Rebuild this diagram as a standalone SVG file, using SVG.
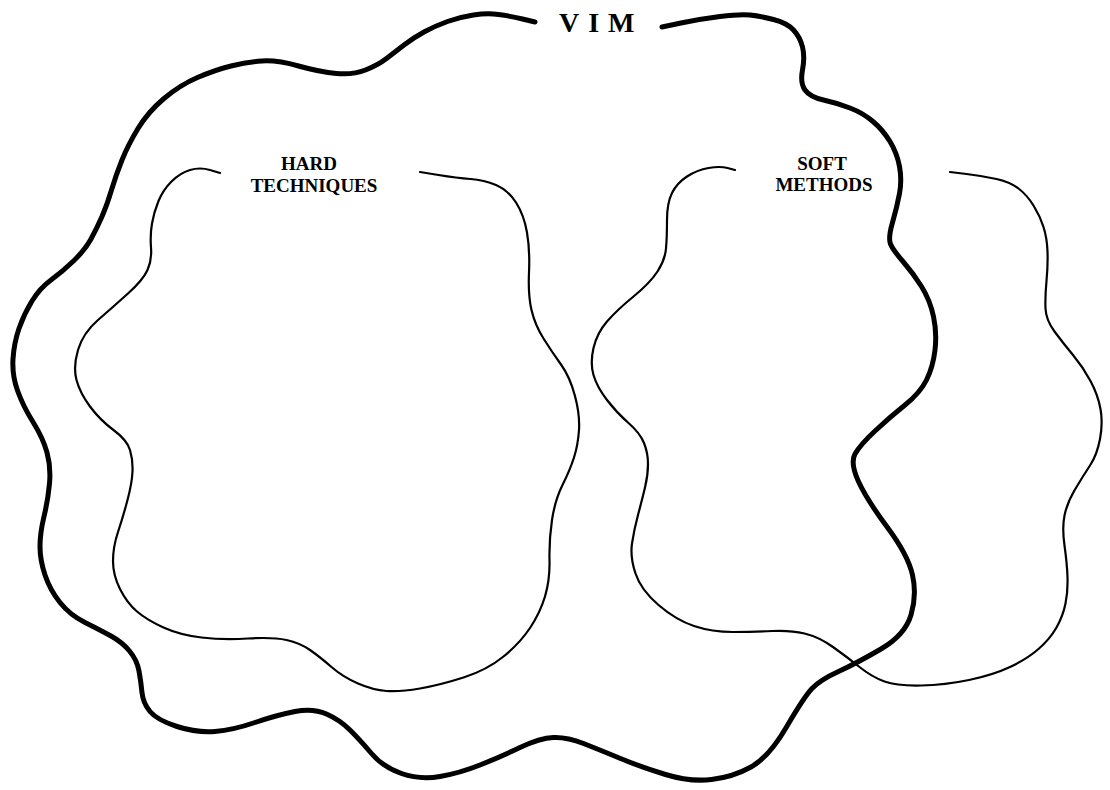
<svg xmlns="http://www.w3.org/2000/svg" width="1110" height="790" viewBox="0 0 1110 790">
<style>
.thick{fill:none;stroke:#000;stroke-width:5;stroke-linecap:round;stroke-linejoin:round}
.thin{fill:none;stroke:#000;stroke-width:2.2;stroke-linecap:round;stroke-linejoin:round}
.lbl{font-family:"Liberation Serif","Times New Roman",serif;font-weight:bold;font-size:19px;fill:#000;text-anchor:middle}
.title{font-family:"Liberation Serif","Times New Roman",serif;font-weight:bold;font-size:28px;fill:#000;letter-spacing:9px}
</style>
<rect width="1110" height="790" fill="#fff"/>
<g id="vim">
<path class="thick" d="M535,22 L522.5,19 Q510,16 498.5,14.5 Q487,13 473.5,15 Q460,17 447.5,21.5 Q435,26 424,32 Q413,38 404,45 Q395,52 386.5,58.5 Q378,65 365.5,70 Q353,75 336.5,73.5 Q320,72 298.5,66 Q277,60 262,61 Q247,62 231,66 Q215,70 197.5,77.5 Q180,85 164,98.5 Q148,112 138,128.5 Q128,145 122,160 Q116,175 111.5,190 Q107,205 102,216.5 Q97,228 91,239 Q85,250 73.5,261 Q62,272 51,280 Q40,288 32,301 Q24,314 19,328.5 Q14,343 13,359 Q12,375 17.5,390.5 Q23,406 33,422 Q43,438 47,452.5 Q51,467 49.5,483.5 Q48,500 44,516.5 Q40,533 40,546.5 Q40,560 45,575 Q50,590 60,602.5 Q70,615 85,622.5 Q100,630 111,636 Q122,642 129.5,651 Q137,660 139,671 Q141,682 142,692.5 Q143,703 150,711.5 Q157,720 177,726.5 Q197,733 215,731.5 Q233,730 255,722.5 Q277,715 295,711.5 Q313,708 326.5,714 Q340,720 350,730 Q360,740 371.5,753.5 Q383,767 401.5,773.5 Q420,780 440,776.5 Q460,773 480,765 Q500,757 520,747.5 Q540,738 553.5,737.5 Q567,737 583.5,743.5 Q600,750 620.5,758.5 Q641,767 665.5,774.5 Q690,782 711.5,779.5 Q733,777 751,767 Q769,757 786.5,727 Q804,697 812,688.5 Q820,680 838.5,671.5 Q857,663 881,649 Q905,635 911,615 Q917,595 912.5,575 Q908,555 887.5,527.5 Q867,500 858.5,481.5 Q850,463 855,454 Q860,445 875,431 Q890,417 905,405 Q920,393 926.5,380 Q933,367 935,350 Q937,333 933.5,316.5 Q930,300 921.5,286.5 Q913,273 903,261.5 Q893,250 890.5,244 Q888,238 892.5,222.5 Q897,207 899.5,193.5 Q902,180 899.5,166.5 Q897,153 890,141.5 Q883,130 873,121.5 Q863,113 850,108 Q837,103 823.5,100 Q810,97 805,90 Q800,83 802.5,70 Q805,57 802.5,47 Q800,37 793.5,30 Q787,23 773.5,19.5 Q760,16 750,15 Q740,14 720,16.5 Q700,19 681,23 L662,27"/>
<text class="title" x="559" y="32">VIM</text>
</g>
<g id="hard-techniques">
<path class="thin" d="M220,173 L210,170 Q200,167 190,170 Q180,173 171.5,181.5 Q163,190 158.5,201 Q154,212 152,223.5 Q150,235 151,247.5 Q152,260 147.5,270 Q143,280 128,293.5 Q113,307 98,320 Q83,333 78,350 Q73,367 76.5,380 Q80,393 90,406.5 Q100,420 113.5,430 Q127,440 130,450 Q133,460 132.5,471.5 Q132,483 127.5,500 Q123,517 118,532 Q113,547 113,561 Q113,575 120,589 Q127,603 137,611.5 Q147,620 163.5,627.5 Q180,635 201.5,637.5 Q223,640 248,638.5 Q273,637 286.5,640 Q300,643 310,650 Q320,657 331.5,667 Q343,677 358,683.5 Q373,690 386.5,691 Q400,692 420,688.5 Q440,685 463.5,677.5 Q487,670 503.5,656.5 Q520,643 530,628 Q540,613 545,596.5 Q550,580 549.5,560 Q549,540 552,520 Q555,500 562.5,485 Q570,470 574,457.5 Q578,445 579,430 Q580,415 575,396 Q570,377 561,364.5 Q552,352 543.5,338.5 Q535,325 531.5,310 Q528,295 529,272.5 Q530,250 527,232.5 Q524,215 516,202.5 Q508,190 496,185 Q484,180 470.5,179 Q457,178 438.5,175 L420,172"/>
<text class="lbl" x="309" y="170">HARD</text>
<text class="lbl" x="314" y="192">TECHNIQUES</text>
</g>
<g id="soft-methods">
<path class="thin" d="M735,170 L727.5,168 Q720,166 708.5,168 Q697,170 687,176.5 Q677,183 672,193 Q667,203 667,220 Q667,237 666,248.5 Q665,260 657.5,271.5 Q650,283 633.5,296.5 Q617,310 607,321.5 Q597,333 593.5,348 Q590,363 593.5,375 Q597,387 607,400 Q617,413 628.5,423 Q640,433 644,443 Q648,453 648,464 Q648,475 645,487.5 Q642,500 638,515 Q634,530 632,543.5 Q630,557 635.5,573.5 Q641,590 658.5,605 Q676,620 694,626 Q712,632 733,632 Q754,632 772,631 Q790,630 804.5,633.5 Q819,637 833,647 Q847,657 859.5,667 Q872,677 884.5,681.5 Q897,686 921,685.5 Q945,685 969,680 Q993,675 1010,667 Q1027,659 1038.5,649 Q1050,639 1056.5,627.5 Q1063,616 1065.5,603.5 Q1068,591 1067.5,577 Q1067,563 1064.5,545.5 Q1062,528 1064.5,515.5 Q1067,503 1075,489.5 Q1083,476 1090,465.5 Q1097,455 1100,439 Q1103,423 1100.5,409 Q1098,395 1090.5,381 Q1083,367 1073,355 Q1063,343 1054.5,331.5 Q1046,320 1045.5,308.5 Q1045,297 1046.5,281 Q1048,265 1047.5,251.5 Q1047,238 1043.5,227 Q1040,216 1033.5,205.5 Q1027,195 1018.5,188.5 Q1010,182 996.5,179 Q983,176 966.5,174 L950,172"/>
<text class="lbl" x="822" y="170">SOFT</text>
<text class="lbl" x="824" y="191">METHODS</text>
</g>
<g id="connectors"></g>
</svg>
